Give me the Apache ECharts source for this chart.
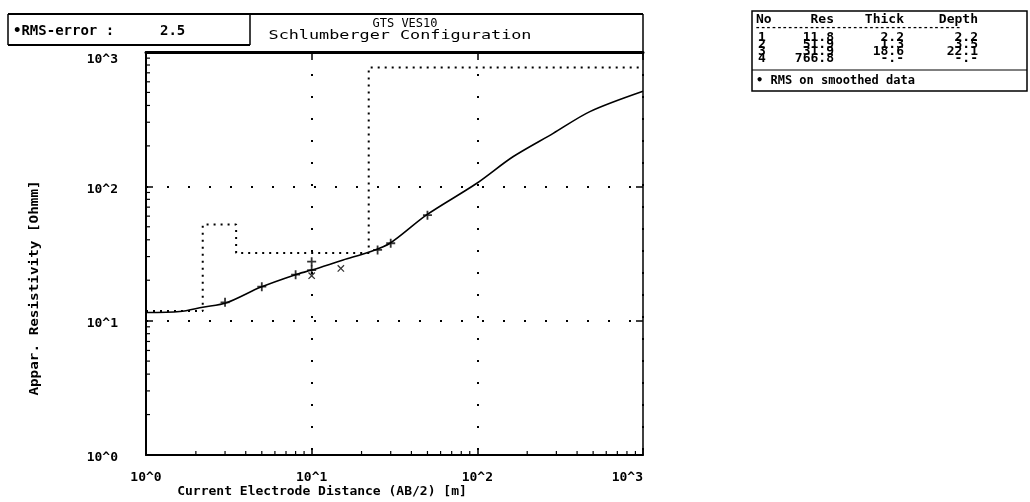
<!DOCTYPE html>
<html><head><meta charset="utf-8">
<script src="https://cdn.jsdelivr.net/npm/echarts@6/dist/echarts.min.js"></script>
<style>html,body{margin:0;padding:0;background:#fff}#c{width:1030px;height:502px}</style>
</head><body><div id="c"></div>
<script>
// ---- data ----
const layerRes = [11.8, 51.9, 31.9, 766.8];
const layerThick = [2.2, 1.3, 18.6];
const layerDepth = [2.2, 3.5, 22.1];
const tableRes = ['11.8', '51.9', '31.9', '766.8'];
const tableThick = ['2.2', '1.3', '18.6', '-.-'];
const tableDepth = ['2.2', '3.5', '22.1', '-.-'];
const curveX = [1, 1.6, 2.2, 3.07, 4.9, 7.9, 10, 15.5, 22.5, 29.7, 49.4, 98.8, 164, 287, 478, 1000];
const curveY = [11.5, 11.7, 12.6, 13.6, 17.7, 21.9, 23.8, 28.3, 32.6, 37.7, 61.3, 105, 166, 248, 360, 510];
const plusX = [3, 5, 8, 10, 10, 25, 30, 50];
const plusY = [13.7, 17.9, 22.0, 23.8, 27.5, 33.6, 37.7, 61];
const crossX = [10, 15];
const crossY = [21.6, 24.5];
const decadeLabels = ['10^0', '10^1', '10^2', '10^3'];
const minorMult = [2, 3, 4, 5, 6, 7, 8, 9];
const decades = [1, 10, 100];

const FONT = '"DejaVu Sans Mono", monospace';
const chart = echarts.init(document.getElementById('c'), null, {renderer: 'canvas'});

// model step line
const modelData = [];
let xPrev = 1;
for (let i = 0; i < layerRes.length; i++) {
  const xEnd = i < layerDepth.length ? layerDepth[i] : 1000;
  modelData.push([xPrev, layerRes[i]]);
  modelData.push([xEnd, layerRes[i]]);
  xPrev = xEnd;
}
const minorVals = [];
decades.forEach(d => minorMult.forEach(m => minorVals.push(d * m)));

function lbl(v) { return decadeLabels[Math.round(Math.log10(v))]; }
function ylbl(v) {
  const i = Math.round(Math.log10(v));
  return (i === 3 ? '{t|' : '{n|') + decadeLabels[i] + '}';
}

const txt = (x, y, s, opt, extra) => Object.assign({type: 'text', x, y, style: Object.assign({text: s, font: 'bold 13px ' + FONT, fill: '#000', verticalAlign: 'middle'}, opt || {})}, extra || {});

const tableTexts = [];
tableTexts.push(txt(756, 20, 'No'));
tableTexts.push(txt(834, 20, 'Res', {align: 'right'}));
tableTexts.push(txt(904, 20, 'Thick', {align: 'right'}));
tableTexts.push(txt(978, 20, 'Depth', {align: 'right'}));
tableTexts.push(txt(755, 28, '--------------------------------------', {font: 'bold 9px ' + FONT}));
for (let i = 0; i < 4; i++) {
  const y = 38 + i * 7;
  tableTexts.push(txt(758, y, String(i + 1)));
  tableTexts.push(txt(834, y, tableRes[i], {align: 'right'}));
  tableTexts.push(txt(904, y, tableThick[i], {align: 'right'}));
  tableTexts.push(txt(978, y, tableDepth[i], {align: 'right'}));
}
tableTexts.push(txt(756, 81, '\u2022 RMS on smoothed data', {font: 'bold 12px ' + FONT}));

const axisNameStyle = {font: 'bold 13px ' + FONT, align: 'center'};
const lblRich = {fontFamily: FONT, fontWeight: 'bold', fontSize: 13, color: '#000'};

chart.setOption({
  animation: false,
  backgroundColor: '#fff',
  grid: {left: 146, top: 52, right: 387, bottom: 47},
  xAxis: [{
    type: 'log', logBase: 10, min: 1, max: 1000,
    axisLine: {lineStyle: {color: '#000', width: 2}},
    axisTick: {inside: true, length: 7, lineStyle: {color: '#000', width: 1.5}},
    axisLabel: {formatter: lbl, color: '#000', fontFamily: FONT, fontWeight: 'bold', fontSize: 13, margin: 16, alignMaxLabel: 'right'},
    splitLine: {show: true, lineStyle: {color: '#000', width: 2, type: [2, 20]}}
  }, {
    type: 'log', logBase: 10, min: 1, max: 1000, position: 'top',
    axisLine: {lineStyle: {color: '#000', width: 3}},
    axisTick: {inside: true, length: 8, lineStyle: {color: '#000', width: 1.5}},
    axisLabel: {show: false}, splitLine: {show: false}
  }],
  yAxis: [{
    type: 'log', logBase: 10, min: 1, max: 1000,
    axisLine: {lineStyle: {color: '#000', width: 2}},
    axisTick: {inside: true, length: 7, lineStyle: {color: '#000', width: 1.5}},
    axisLabel: {formatter: ylbl, margin: 28, rich: {
      n: Object.assign({padding: [6, 0, 0, 0]}, lblRich),
      t: Object.assign({padding: [16, 0, 0, 0]}, lblRich)
    }},
    splitLine: {show: true, lineStyle: {color: '#000', width: 2, type: [2, 19]}}
  }, {
    type: 'log', logBase: 10, min: 1, max: 1000, position: 'right',
    axisLine: {lineStyle: {color: '#000', width: 1.5}},
    axisTick: {inside: true, length: 7, lineStyle: {color: '#000', width: 1.5}},
    axisLabel: {show: false}, splitLine: {show: false}
  }],
  graphic: [
    {type: 'line', shape: {x1: 8, y1: 14, x2: 643, y2: 14}, style: {stroke: '#000', lineWidth: 2}},
    {type: 'line', shape: {x1: 8, y1: 14, x2: 8, y2: 45}, style: {stroke: '#000', lineWidth: 1.5}},
    {type: 'line', shape: {x1: 8, y1: 45, x2: 250, y2: 45}, style: {stroke: '#000', lineWidth: 2}},
    {type: 'line', shape: {x1: 250, y1: 14, x2: 250, y2: 45}, style: {stroke: '#000', lineWidth: 1.5}},
    {type: 'line', shape: {x1: 643, y1: 14, x2: 643, y2: 52}, style: {stroke: '#000', lineWidth: 1.5}},
    txt(13, 31, '\u2022RMS-error :', {font: 'bold 14px ' + FONT}),
    txt(160, 31, '2.5', {font: 'bold 14px ' + FONT}),
    txt(405, 24, 'GTS VES10', {align: 'center', font: '12px ' + FONT}),
    txt(400, 36, 'Schlumberger Configuration', {align: 'center', font: '12px ' + FONT}, {scaleX: 1.4}),
    {type: 'rect', shape: {x: 752, y: 11, width: 275, height: 80}, style: {fill: 'none', stroke: '#000', lineWidth: 1.5}},
    {type: 'line', shape: {x1: 752, y1: 70, x2: 1027, y2: 70}, style: {stroke: '#000', lineWidth: 1}},
    txt(322, 492, 'Current Electrode Distance (AB/2) [m]', axisNameStyle),
    txt(35, 288, 'Appar. Resistivity [Ohmm]', axisNameStyle, {rotation: Math.PI / 2, scaleX: 1.1})
  ].concat(tableTexts),
  series: [
    {
      type: 'line', data: modelData, showSymbol: false, xAxisIndex: 0, yAxisIndex: 0,
      lineStyle: {color: '#000', width: 2, type: [2, 5]}, z: 3
    },
    {
      type: 'line', data: curveX.map((x, i) => [x, curveY[i]]), showSymbol: false, smooth: 0.3,
      lineStyle: {color: '#000', width: 1.6}, z: 4
    },
    {
      type: 'scatter', data: plusX.map((x, i) => [x, plusY[i]]),
      symbol: 'path://M4,0H6V4H10V6H6V10H4V6H0V4H4Z', symbolSize: 9,
      itemStyle: {color: '#000'}, z: 5
    },
    {
      type: 'scatter', data: crossX.map((x, i) => [x, crossY[i]]),
      symbol: 'path://M4.3,0H5.7V4.3H10V5.7H5.7V10H4.3V5.7H0V4.3H4.3Z', symbolSize: 9, symbolRotate: 45,
      itemStyle: {color: '#000'}, z: 5
    },
    {
      type: 'custom', coordinateSystem: 'cartesian2d', silent: true, z: 6,
      data: minorVals.map(v => [v]),
      renderItem: function (params, api) {
        const v = api.value(0);
        const px = api.coord([v, 1]);
        const py = api.coord([1, v]);
        return {type: 'group', children: [
          {type: 'line', shape: {x1: px[0], y1: px[1], x2: px[0], y2: px[1] - 4}, style: {stroke: '#000', lineWidth: 1.2}},
          {type: 'line', shape: {x1: py[0], y1: py[1], x2: py[0] + 4, y2: py[1]}, style: {stroke: '#000', lineWidth: 1.2}}
        ]};
      }
    }
  ]
});
</script></body></html>
